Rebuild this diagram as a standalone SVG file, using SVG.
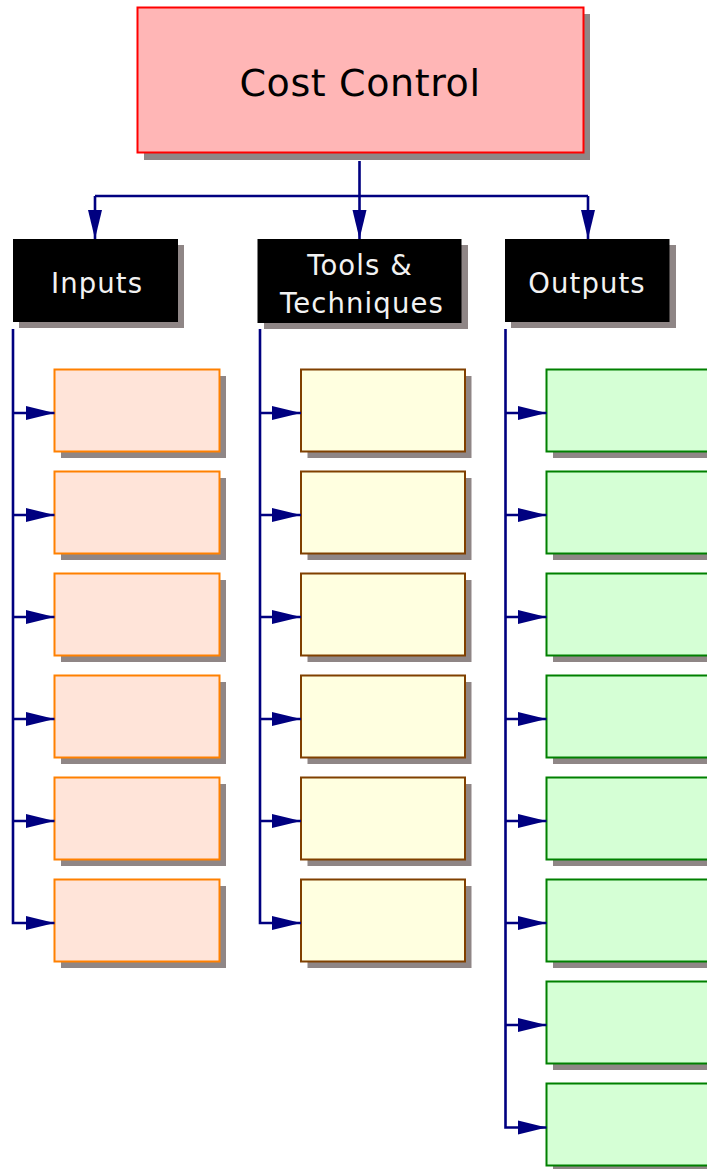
<svg xmlns="http://www.w3.org/2000/svg" width="707" height="1169" viewBox="0 0 707 1169">
<defs>
<style>
.sh{fill:#8F8686}
.top{fill:#FFB6B6;stroke:#FF0000;stroke-width:2}
.hdr{fill:#000000}
.in{fill:#FFE4D9;stroke:#FF8000;stroke-width:2}
.tt{fill:#FFFFE0;stroke:#804000;stroke-width:2}
.out{fill:#D5FFD5;stroke:#008000;stroke-width:2}
.ht{font-family:"DejaVu Sans",sans-serif;font-size:27.5px;fill:#F2F2F2;text-anchor:middle;letter-spacing:1.1px}
.tp{font-family:"DejaVu Sans",sans-serif;font-size:38px;fill:#000000;text-anchor:middle;letter-spacing:0.6px}
.ln{fill:none;stroke:#000080;stroke-width:2.6}
</style>
<marker id="ah" markerUnits="userSpaceOnUse" markerWidth="30" markerHeight="16" refX="29" refY="8" orient="auto">
<path d="M0,1 L29,8 L0,15 Z" fill="#000080"/>
</marker>
</defs>

<g id="cost-control">
<rect class="sh" x="144" y="14" width="446" height="146"/>
<rect class="top" x="137.5" y="7.5" width="446" height="145"/>
<text class="tp" x="360" y="96">Cost Control</text>
</g>

<g id="inputs">
<rect class="sh" x="19" y="245" width="165" height="83"/>
<rect class="hdr" x="13" y="239" width="165" height="83"/>
<text class="ht" x="97" y="293">Inputs</text>
</g>
<g id="tools">
<rect class="sh" x="264" y="245" width="204" height="84"/>
<rect class="hdr" x="257.5" y="239" width="204" height="84"/>
<text class="ht" x="360" y="275">Tools &amp;</text>
<text class="ht" x="362" y="313">Techniques</text>
</g>
<g id="outputs">
<rect class="sh" x="511" y="245" width="165" height="83"/>
<rect class="hdr" x="505" y="239" width="164.5" height="83"/>
<text class="ht" x="587" y="293">Outputs</text>
</g>

<g id="input-items">
<g id="in1"><rect class="sh" x="61" y="376" width="165" height="82"/><rect class="in" x="54.5" y="369.5" width="165" height="82"/></g>
<g id="in2"><rect class="sh" x="61" y="478" width="165" height="82"/><rect class="in" x="54.5" y="471.5" width="165" height="82"/></g>
<g id="in3"><rect class="sh" x="61" y="580" width="165" height="82"/><rect class="in" x="54.5" y="573.5" width="165" height="82"/></g>
<g id="in4"><rect class="sh" x="61" y="682" width="165" height="82"/><rect class="in" x="54.5" y="675.5" width="165" height="82"/></g>
<g id="in5"><rect class="sh" x="61" y="784" width="165" height="82"/><rect class="in" x="54.5" y="777.5" width="165" height="82"/></g>
<g id="in6"><rect class="sh" x="61" y="886" width="165" height="82"/><rect class="in" x="54.5" y="879.5" width="165" height="82"/></g>
</g>

<g id="tool-items">
<g id="tt1"><rect class="sh" x="307.5" y="376" width="164" height="82"/><rect class="tt" x="301" y="369.5" width="164" height="82"/></g>
<g id="tt2"><rect class="sh" x="307.5" y="478" width="164" height="82"/><rect class="tt" x="301" y="471.5" width="164" height="82"/></g>
<g id="tt3"><rect class="sh" x="307.5" y="580" width="164" height="82"/><rect class="tt" x="301" y="573.5" width="164" height="82"/></g>
<g id="tt4"><rect class="sh" x="307.5" y="682" width="164" height="82"/><rect class="tt" x="301" y="675.5" width="164" height="82"/></g>
<g id="tt5"><rect class="sh" x="307.5" y="784" width="164" height="82"/><rect class="tt" x="301" y="777.5" width="164" height="82"/></g>
<g id="tt6"><rect class="sh" x="307.5" y="886" width="164" height="82"/><rect class="tt" x="301" y="879.5" width="164" height="82"/></g>
</g>

<g id="output-items">
<g id="out1"><rect class="sh" x="553" y="376" width="170" height="82"/><rect class="out" x="546.5" y="369.5" width="170" height="82"/></g>
<g id="out2"><rect class="sh" x="553" y="478" width="170" height="82"/><rect class="out" x="546.5" y="471.5" width="170" height="82"/></g>
<g id="out3"><rect class="sh" x="553" y="580" width="170" height="82"/><rect class="out" x="546.5" y="573.5" width="170" height="82"/></g>
<g id="out4"><rect class="sh" x="553" y="682" width="170" height="82"/><rect class="out" x="546.5" y="675.5" width="170" height="82"/></g>
<g id="out5"><rect class="sh" x="553" y="784" width="170" height="82"/><rect class="out" x="546.5" y="777.5" width="170" height="82"/></g>
<g id="out6"><rect class="sh" x="553" y="886" width="170" height="82"/><rect class="out" x="546.5" y="879.5" width="170" height="82"/></g>
<g id="out7"><rect class="sh" x="553" y="988" width="170" height="82"/><rect class="out" x="546.5" y="981.5" width="170" height="82"/></g>
<g id="out8"><rect class="sh" x="553" y="1090" width="170" height="82"/><rect class="out" x="546.5" y="1083.5" width="170" height="82"/></g>
</g>

<g id="connectors">
<path class="ln" d="M359.5,161 V196 M95,196 H588"/>
<path class="ln" d="M95,196 V239" marker-end="url(#ah)"/>
<path class="ln" d="M359.5,196 V239" marker-end="url(#ah)"/>
<path class="ln" d="M588,196 V239" marker-end="url(#ah)"/>

<path class="ln" d="M13,329 V923 H54.5" marker-end="url(#ah)"/>
<path class="ln" d="M13,413 H54.5" marker-end="url(#ah)"/>
<path class="ln" d="M13,515 H54.5" marker-end="url(#ah)"/>
<path class="ln" d="M13,617 H54.5" marker-end="url(#ah)"/>
<path class="ln" d="M13,719 H54.5" marker-end="url(#ah)"/>
<path class="ln" d="M13,821 H54.5" marker-end="url(#ah)"/>

<path class="ln" d="M260,329 V923 H301" marker-end="url(#ah)"/>
<path class="ln" d="M260,413 H301" marker-end="url(#ah)"/>
<path class="ln" d="M260,515 H301" marker-end="url(#ah)"/>
<path class="ln" d="M260,617 H301" marker-end="url(#ah)"/>
<path class="ln" d="M260,719 H301" marker-end="url(#ah)"/>
<path class="ln" d="M260,821 H301" marker-end="url(#ah)"/>

<path class="ln" d="M505.5,329 V1127.5 H546.5" marker-end="url(#ah)"/>
<path class="ln" d="M505.5,413 H546.5" marker-end="url(#ah)"/>
<path class="ln" d="M505.5,515 H546.5" marker-end="url(#ah)"/>
<path class="ln" d="M505.5,617 H546.5" marker-end="url(#ah)"/>
<path class="ln" d="M505.5,719 H546.5" marker-end="url(#ah)"/>
<path class="ln" d="M505.5,821 H546.5" marker-end="url(#ah)"/>
<path class="ln" d="M505.5,923 H546.5" marker-end="url(#ah)"/>
<path class="ln" d="M505.5,1025 H546.5" marker-end="url(#ah)"/>
</g>
</svg>
